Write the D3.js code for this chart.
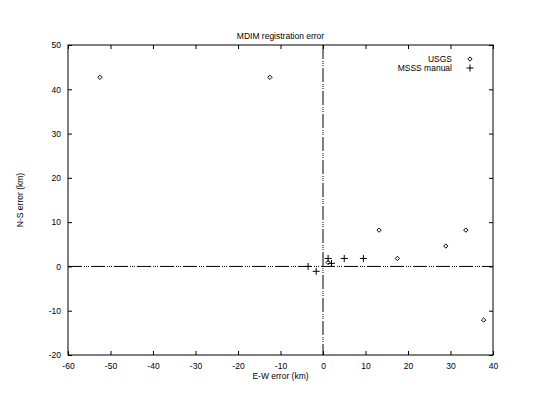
<!DOCTYPE html>
<html lang="en">
<head>
<meta charset="utf-8" />
<title>MDIM registration error</title>
<script src="https://cdn.jsdelivr.net/npm/d3@7"></script>
<style>
  body { margin: 0; background: #fff; }
  svg text { font-family: "Liberation Sans", "DejaVu Sans", sans-serif; font-size: 8.5px; fill: #000; }
</style>
</head>
<body>
<svg id="chart" width="550" height="400"></svg>
<script>
// data
const usgsEW = [-52.5, -12.5, 13.2, 17.5, 28.9, 33.6, 37.8, 1.2];
const usgsNS = [42.7, 42.7, 8.2, 1.8, 4.6, 8.2, -12.1, 0.9];
const msssEW = [-3.5, -1.6, 1.2, 2.0, 5.0, 9.5];
const msssNS = [0.0, -1.1, 1.8, 0.7, 1.8, 1.8];
const xTicks = [-60, -50, -40, -30, -20, -10, 0, 10, 20, 30, 40];
const yTicks = [-20, -10, 0, 10, 20, 30, 40, 50];

const svg = d3.select("#chart");
const margin = { top: 45, right: 57, bottom: 45, left: 68 };
const width = 550, height = 400;
const innerWidth = width - margin.left - margin.right;
const innerHeight = height - margin.top - margin.bottom;

const g = svg.append("g").attr("transform", `translate(${margin.left},${margin.top})`);

const x = d3.scaleLinear().domain([-60, 40]).range([0, innerWidth]);
const y = d3.scaleLinear().domain([-20, 50]).range([innerHeight, 0]);

// zero lines (dash-dot)
const dash = "14,2,1,1,1,1,1,2";
g.append("line")
  .attr("x1", 0).attr("x2", innerWidth)
  .attr("y1", y(0)).attr("y2", y(0))
  .attr("stroke", "#000").attr("stroke-width", 1)
  .attr("stroke-dasharray", dash);
g.append("line")
  .attr("x1", x(0)).attr("x2", x(0))
  .attr("y1", 0).attr("y2", innerHeight)
  .attr("stroke", "#000").attr("stroke-width", 1)
  .attr("stroke-dasharray", dash);

// axes with inward ticks, plain hyphen for negatives
const tick = 4;
const fmt = d => String(d);
const xAxis = g.append("g").attr("transform", `translate(0,${innerHeight})`)
  .call(d3.axisBottom(x).tickValues(xTicks).tickSizeInner(-tick).tickSizeOuter(0).tickPadding(8).tickFormat(fmt));
const xTop = g.append("g")
  .call(d3.axisTop(x).tickValues(xTicks).tickSizeInner(-tick).tickSizeOuter(0));
const yAxis = g.append("g")
  .call(d3.axisLeft(y).tickValues(yTicks).tickSizeInner(-tick).tickSizeOuter(0).tickPadding(7).tickFormat(fmt));
const yRight = g.append("g").attr("transform", `translate(${innerWidth},0)`)
  .call(d3.axisRight(y).tickValues(yTicks).tickSizeInner(-tick).tickSizeOuter(0));

// mirrored axes carry ticks only
xTop.selectAll("text").remove();
yRight.selectAll("text").remove();

[xAxis, xTop, yAxis, yRight].forEach(a => {
  a.select(".domain").remove();
  a.selectAll("text").attr("font-size", null).attr("font-family", null);
  a.selectAll("line").attr("stroke", "#000");
});

// frame
g.append("rect")
  .attr("width", innerWidth).attr("height", innerHeight)
  .attr("fill", "none").attr("stroke", "#000").attr("stroke-width", 1);

// USGS diamonds
const diamond = d3.symbol().type(d3.symbolDiamond2).size(12);
g.selectAll(".usgs")
  .data(usgsEW.map((d, i) => [d, usgsNS[i]]))
  .enter().append("path")
  .attr("class", "usgs")
  .attr("transform", d => `translate(${x(d[0])},${y(d[1])})`)
  .attr("d", diamond)
  .attr("fill", "none").attr("stroke", "#000").attr("stroke-width", 1);

// MSSS plus marks
const plusPath = "M-3.5,0H3.5M0,-3.5V3.5";
g.selectAll(".msss")
  .data(msssEW.map((d, i) => [d, msssNS[i]]))
  .enter().append("path")
  .attr("class", "msss")
  .attr("transform", d => `translate(${x(d[0])},${y(d[1])})`)
  .attr("d", plusPath)
  .attr("stroke", "#000").attr("stroke-width", 1);

// title and axis labels
svg.append("text")
  .attr("x", margin.left + innerWidth / 2).attr("y", 39)
  .attr("text-anchor", "middle").text("MDIM registration error");
svg.append("text")
  .attr("x", margin.left + innerWidth / 2).attr("y", 379)
  .attr("text-anchor", "middle").text("E-W error (km)");
svg.append("text")
  .attr("transform", `translate(23,${margin.top + innerHeight / 2}) rotate(-90)`)
  .attr("text-anchor", "middle").text("N-S error (km)");

// legend
const legendItems = ["USGS", "MSSS manual"];
const legend = svg.append("g").attr("transform", "translate(460,59)");
legendItems.forEach((name, i) => {
  legend.append("text")
    .attr("x", -8).attr("y", i * 9 + 3)
    .attr("text-anchor", "end").text(name);
});
legend.append("path")
  .attr("transform", "translate(10,0)")
  .attr("d", diamond)
  .attr("fill", "none").attr("stroke", "#000").attr("stroke-width", 1);
legend.append("path")
  .attr("transform", "translate(10,9)")
  .attr("d", plusPath)
  .attr("stroke", "#000").attr("stroke-width", 1);
</script>
</body>
</html>
